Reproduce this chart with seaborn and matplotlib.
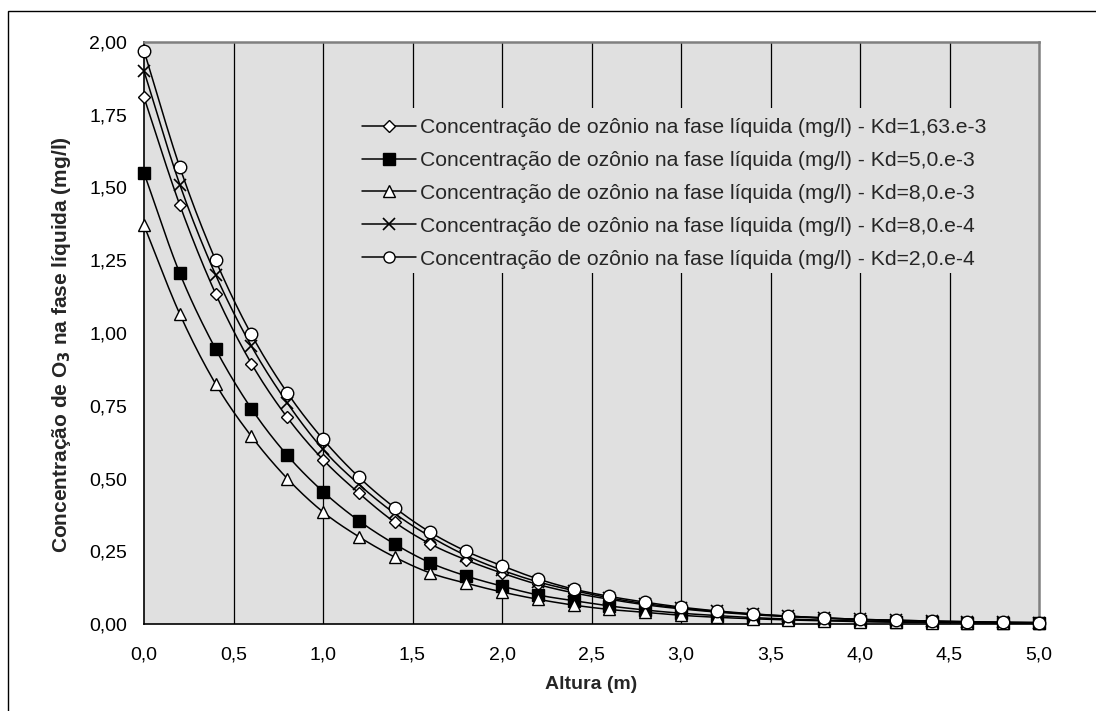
import numpy as np
import pandas as pd
import matplotlib
matplotlib.use("Agg")
import matplotlib.pyplot as plt
from matplotlib.lines import Line2D
from matplotlib.patches import Rectangle
import seaborn as sns

# ---------------- data ----------------
altura = [0.0, 0.2, 0.4, 0.6, 0.8, 1.0, 1.2, 1.4, 1.6, 1.8, 2.0, 2.2, 2.4,
          2.6, 2.8, 3.0, 3.2, 3.4, 3.6, 3.8, 4.0, 4.2, 4.4, 4.6, 4.8, 5.0]

kd_163e3 = [1.81, 1.44, 1.135, 0.895, 0.71, 0.565, 0.45, 0.35, 0.275, 0.22, 0.175,
            0.136, 0.107, 0.085, 0.066, 0.052, 0.041, 0.032, 0.025, 0.02, 0.015,
            0.012, 0.009, 0.007, 0.005, 0.004]
kd_50e3 = [1.55, 1.205, 0.945, 0.74, 0.58, 0.455, 0.355, 0.275, 0.21, 0.165, 0.13,
           0.10, 0.08, 0.062, 0.048, 0.037, 0.029, 0.022, 0.017, 0.013, 0.010,
           0.008, 0.006, 0.005, 0.004, 0.003]
kd_80e3 = [1.37, 1.065, 0.825, 0.645, 0.50, 0.385, 0.30, 0.23, 0.175, 0.14, 0.11,
           0.085, 0.065, 0.05, 0.04, 0.03, 0.023, 0.018, 0.014, 0.011, 0.008,
           0.006, 0.005, 0.004, 0.003, 0.002]
kd_80e4 = [1.90, 1.51, 1.20, 0.955, 0.76, 0.60, 0.48, 0.38, 0.30, 0.235, 0.185,
           0.145, 0.115, 0.09, 0.07, 0.055, 0.043, 0.034, 0.027, 0.021, 0.016,
           0.013, 0.010, 0.008, 0.006, 0.005]
kd_20e4 = [1.97, 1.57, 1.25, 0.995, 0.795, 0.635, 0.505, 0.40, 0.315, 0.25, 0.20,
           0.155, 0.12, 0.095, 0.075, 0.058, 0.045, 0.035, 0.027, 0.021, 0.016,
           0.013, 0.010, 0.008, 0.006, 0.005]

series_labels = [
    "Concentração de ozônio na fase líquida (mg/l) - Kd=1,63.e-3",
    "Concentração de ozônio na fase líquida (mg/l) - Kd=5,0.e-3",
    "Concentração de ozônio na fase líquida (mg/l) - Kd=8,0.e-3",
    "Concentração de ozônio na fase líquida (mg/l) - Kd=8,0.e-4",
    "Concentração de ozônio na fase líquida (mg/l) - Kd=2,0.e-4",
]
series_values = [kd_163e3, kd_50e3, kd_80e3, kd_80e4, kd_20e4]

x_ticks = [0.0, 0.5, 1.0, 1.5, 2.0, 2.5, 3.0, 3.5, 4.0, 4.5, 5.0]
y_ticks = [0.0, 0.25, 0.5, 0.75, 1.0, 1.25, 1.5, 1.75, 2.0]

# marker styles
styles = [
    dict(marker="D", ms=6.5, mfc="white", mec="black", mew=1.0),
    dict(marker="s", ms=8, mfc="black", mec="black", mew=1.0),
    dict(marker="^", ms=8.5, mfc="white", mec="black", mew=1.0),
    dict(marker="x", ms=8, mfc="black", mec="black", mew=1.2),
    dict(marker="o", ms=9, mfc="white", mec="black", mew=1.0),
]
legend_ms = [6, 8, 8.5, 8, 8]


def smooth(xs, ys, n=16):
    """Catmull-Rom smoothing through the points (like Excel's smoothed line)."""
    xs = np.asarray(xs, float)
    ys = np.asarray(ys, float)
    P = np.column_stack([xs, ys])
    P = np.vstack([2 * P[0] - P[1], P, 2 * P[-1] - P[-2]])
    out = []
    t = np.linspace(0, 1, n, endpoint=False)
    for i in range(1, len(P) - 2):
        p0, p1, p2, p3 = P[i - 1], P[i], P[i + 1], P[i + 2]
        tt = t[:, None]
        seg = 0.5 * ((2 * p1) + (-p0 + p2) * tt + (2 * p0 - 5 * p1 + 4 * p2 - p3) * tt ** 2
                     + (-p0 + 3 * p1 - 3 * p2 + p3) * tt ** 3)
        out.append(seg)
    out.append(P[-2][None, :])
    out = np.vstack(out)
    return out[:, 0], out[:, 1]


# ---------------- figure ----------------
sns.set_theme(style="white")
plt.rcParams["font.family"] = ["Liberation Sans", "DejaVu Sans"]

W, H = 1096, 711
fig = plt.figure(figsize=(W / 100, H / 100), dpi=100)
ax = fig.add_axes([144 / W, 1 - 624 / H, (1039 - 144) / W, (624 - 42) / H])
ax.set_facecolor("#e0e0e0")

handles = []
for lab, vals, st, lms in zip(series_labels, series_values, styles, legend_ms):
    sx, sy = smooth(altura, vals)
    dense = pd.DataFrame({"Altura": sx, "C": sy})
    sns.lineplot(data=dense, x="Altura", y="C", ax=ax, color="black", lw=1.1,
                 estimator=None, sort=False, zorder=3)
    pts = pd.DataFrame({"Altura": altura, "C": vals})
    sns.lineplot(data=pts, x="Altura", y="C", ax=ax, color="black", linestyle="",
                 estimator=None, sort=False, zorder=4, clip_on=False, **st)
    hst = dict(st)
    hst["ms"] = lms
    handles.append(Line2D([], [], color="black", lw=1.1, **hst))

ax.set_xlim(0, 5)
ax.set_ylim(0, 2)
ax.set_xticks(x_ticks)
ax.set_yticks(y_ticks)
ax.set_xticklabels([f"{v:.1f}".replace(".", ",") for v in x_ticks])
ax.set_yticklabels([f"{v:.2f}".replace(".", ",") for v in y_ticks])
ax.tick_params(axis="both", direction="inout", length=8, width=1, colors="black",
               labelsize=14)
ax.tick_params(axis="x", pad=12)
ax.tick_params(axis="y", pad=8)

# vertical grid only
for xv in x_ticks[1:-1]:
    ax.axvline(xv, color="black", lw=0.9, zorder=1)

for side in ["left", "bottom"]:
    ax.spines[side].set_color("black")
    ax.spines[side].set_linewidth(1.2)
for side in ["top", "right"]:
    ax.spines[side].set_color("#808080")
    ax.spines[side].set_linewidth(1.8)

ax.set_xlabel("Altura (m)", fontsize=14, fontweight="bold", labelpad=9)
ax.set_ylabel("Concentração de O$_\\mathbf{3}$ na fase líquida (mg/l)", fontsize=15,
              fontweight="bold")
ax.yaxis.set_label_coords(-0.079, 0.48)

# legend background (opaque, hides the grid lines)
ax.add_patch(Rectangle((338 / W, 1 - 273 / H), (1022 - 338) / W, (273 - 108) / H,
                       transform=fig.transFigure, facecolor="#e0e0e0",
                       edgecolor="none", zorder=1.5))

leg = ax.legend(handles, series_labels, loc="upper left",
                bbox_to_anchor=(362 / W, 1 - 118 / H), bbox_transform=fig.transFigure,
                frameon=False, fontsize=15.2, handlelength=2.55, handletextpad=0.22,
                labelspacing=0.66, borderpad=0, borderaxespad=0)
leg.set_zorder(5)

# outer chart frame
fig.patches.append(Rectangle((8 / W, -0.01), 1.02, 1 - 11 / H + 0.01,
                             transform=fig.transFigure, fill=False,
                             edgecolor="black", lw=1.0))

fig.savefig("out.png", dpi=100)
